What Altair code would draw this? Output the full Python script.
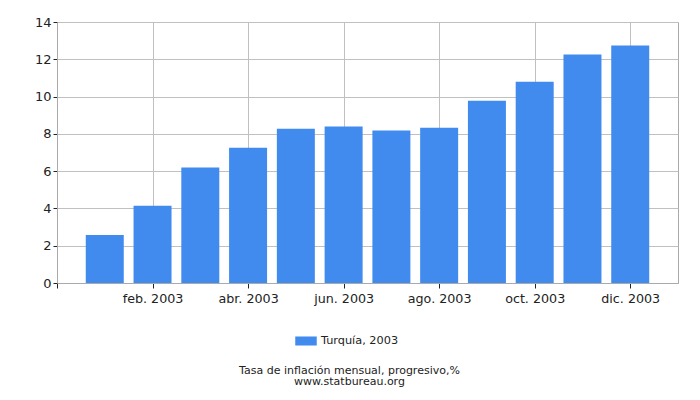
import altair as alt
import pandas as pd

months = ["ene. 2003", "feb. 2003", "mar. 2003", "abr. 2003", "may. 2003", "jun. 2003",
          "jul. 2003", "ago. 2003", "sep. 2003", "oct. 2003", "nov. 2003", "dic. 2003"]
values = [2.58, 4.14, 6.19, 7.26, 8.28, 8.39, 8.18, 8.33, 9.78, 10.79, 12.26, 12.74]
series_name = "Turquía, 2003"
y_ticks = [0, 2, 4, 6, 8, 10, 12, 14]
x_ticks = [0, 2, 4, 6, 8, 10, 12]
title_lines = ["Tasa de inflación mensual, progresivo,%", "www.statbureau.org"]
bar_color = "#418BEF"

df = pd.DataFrame({
    "m": list(range(1, len(months) + 1)),
    "mes": months,
    "v": values,
    "s": [series_name] * len(months),
})

label_expr = ""
for i, name in enumerate(months, start=1):
    label_expr += f"datum.value == {i} ? '{name}' : "
label_expr += "''"

FONT = "DejaVu Sans"

chart = alt.Chart(df).mark_bar(size=38).encode(
    x=alt.X("m:Q",
            scale=alt.Scale(domain=[0, 13], nice=False, zero=False, padding=0),
            axis=alt.Axis(values=x_ticks, labelExpr=label_expr, title=None,
                          labelFont=FONT, labelFontSize=12.7, labelColor="#222",
                          tickColor="#222", tickSize=5, domainColor="#aaa",
                          gridColor="#c0c0c0", labelPadding=4)),
    y=alt.Y("v:Q",
            scale=alt.Scale(domain=[0, 14], nice=False),
            axis=alt.Axis(values=y_ticks, title=None, labelFont=FONT, labelFontSize=13,
                          labelColor="#222", tickColor="#222", tickSize=4,
                          domainColor="#aaa", gridColor="#c0c0c0", labelPadding=2)),
    color=alt.Color("s:N",
                    scale=alt.Scale(domain=[series_name], range=[bar_color]),
                    legend=alt.Legend(title=None, orient="none", legendX=238, legendY=308,
                                      symbolType="M-1,-0.42H1V0.42H-1Z", symbolSize=462,
                                      symbolStrokeWidth=0, labelFont=FONT, labelFontSize=11.3,
                                      labelColor="#222")),
).properties(
    width=621,
    height=261,
    autosize=alt.AutoSizeParams(type="none"),
    padding={"left": 49, "top": 14, "right": 4, "bottom": 104},
    title=alt.TitleParams(text=title_lines, orient="bottom", anchor="middle",
                          font=FONT, fontSize=11, fontWeight="normal", color="#222",
                          lineHeight=11, offset=18, dx=-18),
).configure_view(stroke="#aaa")

chart.save("out.html", embed_options={"renderer": "svg", "actions": False})
